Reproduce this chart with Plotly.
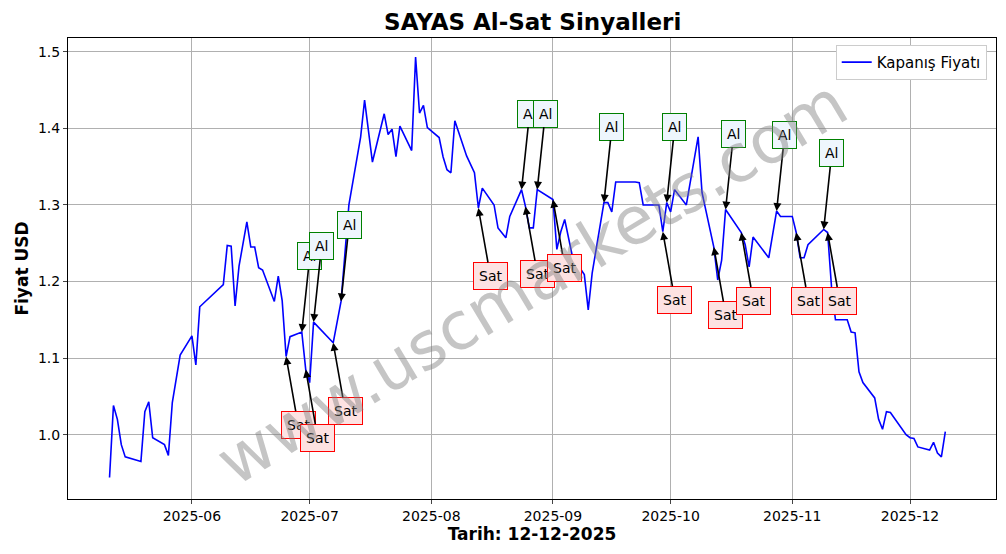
import plotly.graph_objects as go

# kapanis fiyatlari
dates = ["2025-05-11", "2025-05-12", "2025-05-13", "2025-05-14", "2025-05-15", "2025-05-19", "2025-05-20",
         "2025-05-21", "2025-05-22", "2025-05-25", "2025-05-26", "2025-05-27", "2025-05-29", "2025-06-01",
         "2025-06-02", "2025-06-03", "2025-06-09", "2025-06-10", "2025-06-11", "2025-06-12", "2025-06-13",
         "2025-06-15", "2025-06-16", "2025-06-17", "2025-06-18", "2025-06-19", "2025-06-22", "2025-06-23",
         "2025-06-24", "2025-06-25", "2025-06-26", "2025-06-29", "2025-06-30", "2025-07-01", "2025-07-02",
         "2025-07-07", "2025-07-09", "2025-07-11", "2025-07-14", "2025-07-15", "2025-07-17", "2025-07-20",
         "2025-07-21", "2025-07-22", "2025-07-23", "2025-07-24", "2025-07-27", "2025-07-28", "2025-07-29",
         "2025-07-30", "2025-07-31", "2025-08-03", "2025-08-04", "2025-08-05", "2025-08-06", "2025-08-07",
         "2025-08-10", "2025-08-12", "2025-08-13", "2025-08-14", "2025-08-17", "2025-08-18", "2025-08-20",
         "2025-08-21", "2025-08-24", "2025-08-25", "2025-08-26", "2025-08-27", "2025-08-28", "2025-09-01",
         "2025-09-02", "2025-09-03", "2025-09-04", "2025-09-06", "2025-09-09", "2025-09-10", "2025-09-11",
         "2025-09-14", "2025-09-15", "2025-09-16", "2025-09-17", "2025-09-22", "2025-09-23", "2025-09-24",
         "2025-09-28", "2025-09-29", "2025-09-30", "2025-10-01", "2025-10-02", "2025-10-05", "2025-10-08",
         "2025-10-09", "2025-10-12", "2025-10-13", "2025-10-14", "2025-10-15", "2025-10-19", "2025-10-20",
         "2025-10-21", "2025-10-22", "2025-10-26", "2025-10-28", "2025-10-29", "2025-11-01", "2025-11-02",
         "2025-11-03", "2025-11-04", "2025-11-05", "2025-11-09", "2025-11-10", "2025-11-11", "2025-11-12",
         "2025-11-15", "2025-11-16", "2025-11-17", "2025-11-18", "2025-11-19", "2025-11-22", "2025-11-23",
         "2025-11-24", "2025-11-25", "2025-11-26", "2025-11-30", "2025-12-01", "2025-12-02", "2025-12-03",
         "2025-12-06", "2025-12-07", "2025-12-08", "2025-12-09", "2025-12-10"]
prices = [0.944, 1.038, 1.020, 0.987, 0.971, 0.965, 1.030,
          1.043, 0.996, 0.987, 0.973, 1.042, 1.104, 1.129,
          1.091, 1.167, 1.196, 1.247, 1.246, 1.168, 1.220,
          1.278, 1.245, 1.245, 1.218, 1.215, 1.174, 1.207,
          1.175, 1.102, 1.128, 1.134, 1.085, 1.068, 1.147,
          1.120, 1.174, 1.300, 1.389, 1.437, 1.356, 1.419,
          1.392, 1.399, 1.363, 1.403, 1.371, 1.493, 1.420,
          1.430, 1.401, 1.388, 1.363, 1.346, 1.342, 1.410,
          1.364, 1.342, 1.296, 1.322, 1.300, 1.270, 1.257,
          1.285, 1.320, 1.298, 1.270, 1.270, 1.320, 1.307,
          1.242, 1.265, 1.281, 1.232, 1.209, 1.163, 1.211,
          1.303, 1.303, 1.291, 1.330, 1.330, 1.329, 1.300,
          1.300, 1.265, 1.303, 1.291, 1.320, 1.300, 1.389,
          1.316, 1.245, 1.202, 1.228, 1.294, 1.264, 1.248,
          1.219, 1.258, 1.231, 1.292, 1.285, 1.285, 1.264,
          1.231, 1.231, 1.248, 1.268, 1.264, 1.193, 1.150,
          1.150, 1.134, 1.133, 1.082, 1.068, 1.048, 1.020,
          1.007, 1.030, 1.029, 1.000, 0.996, 0.995, 0.984,
          0.980, 0.990, 0.976, 0.971, 1.004]

# sinyaller
al_dates = ["2025-06-29", "2025-07-02", "2025-07-09", "2025-08-24", "2025-08-28",
            "2025-09-14", "2025-09-30", "2025-10-15", "2025-10-28", "2025-11-09"]
sat_dates = ["2025-06-25", "2025-06-30", "2025-07-07", "2025-08-13", "2025-08-25", "2025-09-01",
             "2025-09-29", "2025-10-12", "2025-10-19", "2025-11-02", "2025-11-10"]

month_ticks = ["2025-06-01", "2025-07-01", "2025-08-01", "2025-09-01",
               "2025-10-01", "2025-11-01", "2025-12-01"]

price_of = dict(zip(dates, prices))
FONT = "DejaVu Sans"

fig = go.Figure()
fig.add_trace(go.Scatter(x=dates, y=prices, mode="lines", name="Kapanış Fiyatı",
                         line=dict(color="blue", width=1.6)))

for d in al_dates:
    fig.add_annotation(x=d, y=price_of[d], text="Al", showarrow=True, ax=8, ay=-76,
                       arrowhead=2, arrowsize=1, arrowwidth=1.6, arrowcolor="black",
                       bgcolor="#eef6fd", bordercolor="green", borderwidth=1, borderpad=5,
                       font=dict(size=14, color="black", family=FONT))
for d in sat_dates:
    fig.add_annotation(x=d, y=price_of[d], text="Sat", showarrow=True, ax=12, ay=68,
                       arrowhead=2, arrowsize=1, arrowwidth=1.6, arrowcolor="black",
                       bgcolor="#fde2e2", bordercolor="red", borderwidth=1, borderpad=5,
                       font=dict(size=14, color="black", family=FONT))

# filigran
fig.add_annotation(xref="paper", yref="paper", x=0.5, y=0.47, text="www.uscmarkets.com",
                   showarrow=False, textangle=-31, opacity=0.45,
                   font=dict(size=66, color="gray", family=FONT))

fig.update_layout(
    width=990, height=538,
    margin=dict(l=60, r=2, t=30, b=47, autoexpand=False),
    paper_bgcolor="white", plot_bgcolor="white",
    font=dict(family=FONT, size=14, color="black"),
    title=dict(text="<b>SAYAS Al-Sat Sinyalleri</b>", x=0.53, xanchor="center", y=0.975,
               yanchor="middle", font=dict(size=23)),
    showlegend=True,
    legend=dict(x=0.99, y=0.985, xanchor="right", yanchor="top", bgcolor="white",
                bordercolor="#cccccc", borderwidth=1, font=dict(size=15)),
)
fig.update_xaxes(range=["2025-04-30 10:00", "2025-12-22 22:00"], tickformat="%Y-%m",
                 tickvals=month_ticks, showgrid=True, gridcolor="#b0b0b0", showline=True,
                 linecolor="black", mirror=True, ticks="outside", ticklen=4, automargin=False,
                 title=dict(text="<b>Tarih: 12-12-2025</b>", standoff=2))
fig.update_yaxes(range=[0.916, 1.518], dtick=0.1, tickformat=".1f", showgrid=True,
                 gridcolor="#b0b0b0", showline=True, linecolor="black", mirror=True,
                 ticks="outside", ticklen=4, automargin=False,
                 title=dict(text="<b>Fiyat USD</b>", standoff=4))

fig.write_html("out.html")
